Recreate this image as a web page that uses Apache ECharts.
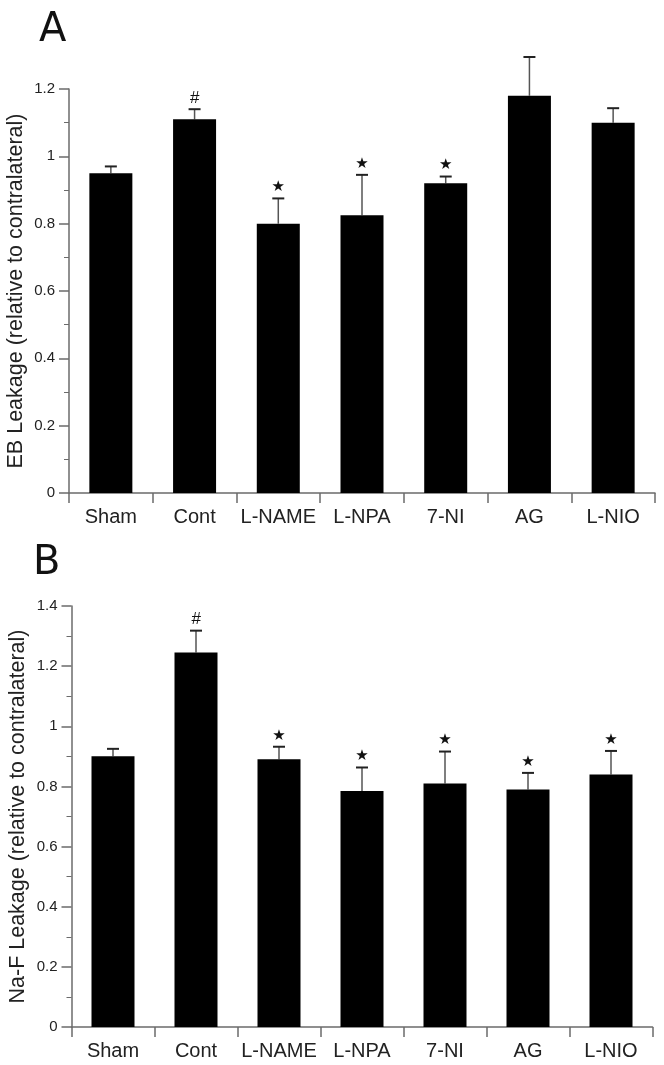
<!DOCTYPE html>
<html>
<head>
<meta charset="utf-8">
<script src="https://cdn.jsdelivr.net/npm/echarts@6/dist/echarts.min.js"></script>
<style>
  html, body { margin: 0; padding: 0; background: #fff; }
  #chart { width: 664px; height: 1065px; }
</style>
</head>
<body>
<div id="chart"></div>
<script>
// groups on the x axis (same in both panels)
const groups = ["Sham", "Cont", "L-NAME", "L-NPA", "7-NI", "AG", "L-NIO"];

// panel A: Evans blue leakage
const ebMean = [0.95, 1.11, 0.80, 0.825, 0.92, 1.18, 1.10];
const ebErr = [0.02, 0.03, 0.075, 0.12, 0.02, 0.115, 0.043];
const ebMark = ["", "#", "★", "★", "★", "", ""];

// panel B: Na-F leakage
const nafMean = [0.90, 1.245, 0.89, 0.785, 0.81, 0.79, 0.84];
const nafErr = [0.025, 0.073, 0.042, 0.078, 0.106, 0.055, 0.078];
const nafMark = ["", "#", "★", "★", "★", "★", "★"];

const FONT = "Liberation Sans, Arial, sans-serif";
const AXIS = "#6b6b6b";
const TXT = "#222";

// error bar (upper whisker only) + significance mark above the cap
const errorRender = (marks) => (params, api) => {
  const i = api.value(0);
  const v = api.value(1);
  const e = api.value(2);
  const base = api.coord([i, v]);
  const top = api.coord([i, v + e]);
  const x = base[0];
  const mark = marks[params.dataIndex];
  return {
    type: "group",
    children: [
      { type: "line", shape: { x1: x, y1: base[1], x2: x, y2: top[1] }, style: { stroke: "#555", lineWidth: 1.5 } },
      { type: "line", shape: { x1: x - 6, y1: top[1], x2: x + 6, y2: top[1] }, style: { stroke: "#222", lineWidth: 2 } },
      {
        type: "text",
        x: x,
        y: top[1] - 11,
        style: {
          text: mark,
          fill: "#111",
          font: mark === "#" ? "italic 17px " + FONT : "15px DejaVu Sans, sans-serif",
          align: "center",
          verticalAlign: "middle",
        },
      },
    ],
  };
};

const xAxisCfg = (gridIndex) => ({
  type: "category",
  gridIndex: gridIndex,
  data: groups,
  boundaryGap: true,
  axisLine: { lineStyle: { color: AXIS, width: 1.5 } },
  axisTick: { show: true, inside: false, length: 10, alignWithLabel: false, lineStyle: { color: AXIS, width: 1.5 } },
  axisLabel: { color: TXT, fontSize: 20, fontFamily: FONT, margin: 14, interval: 0 },
  splitLine: { show: false },
});

const yAxisCfg = (gridIndex, max, name) => ({
  type: "value",
  gridIndex: gridIndex,
  min: 0,
  max: max,
  interval: 0.2,
  name: name,
  nameLocation: "middle",
  nameGap: 42,
  nameMoveOverlap: false,
  nameTextStyle: { color: TXT, fontSize: 21.5, fontFamily: FONT },
  axisLine: { show: true, lineStyle: { color: AXIS, width: 1.5 } },
  axisTick: { show: true, inside: false, length: 10, lineStyle: { color: AXIS, width: 1.5 } },
  minorTick: { show: true, splitNumber: 2, length: 5, lineStyle: { color: AXIS, width: 1 } },
  axisLabel: { color: TXT, fontSize: 15, fontFamily: FONT, margin: 14 },
  splitLine: { show: false },
});

const toErrData = (mean, err) => mean.map((m, i) => [i, m, err[i]]);

const chart = echarts.init(document.getElementById("chart"), null, { renderer: "canvas" });

chart.setOption({
  backgroundColor: "#fff",
  animation: false,
  grid: [
    { left: 69, top: 89, width: 586, height: 404, containLabel: false, outerBoundsMode: "none" },
    { left: 71.5, top: 606, width: 581, height: 421, containLabel: false, outerBoundsMode: "none" },
  ],
  xAxis: [xAxisCfg(0), xAxisCfg(1)],
  yAxis: [
    yAxisCfg(0, 1.2, "EB Leakage (relative to contralateral)"),
    yAxisCfg(1, 1.4, "Na-F Leakage (relative to contralateral)"),
  ],
  graphic: [
    { type: "text", left: 39, top: 11, style: { text: "A", font: "40px DejaVu Sans, sans-serif", fill: "#111" } },
    { type: "text", left: 33, top: 544, style: { text: "B", font: "40px DejaVu Sans, sans-serif", fill: "#111" } },
  ],
  series: [
    {
      type: "bar",
      xAxisIndex: 0,
      yAxisIndex: 0,
      data: ebMean,
      barWidth: 43,
      itemStyle: { color: "#000" },
    },
    {
      type: "custom",
      xAxisIndex: 0,
      yAxisIndex: 0,
      data: toErrData(ebMean, ebErr),
      encode: { x: 0, y: 1 },
      clip: false,
      renderItem: errorRender(ebMark),
    },
    {
      type: "bar",
      xAxisIndex: 1,
      yAxisIndex: 1,
      data: nafMean,
      barWidth: 43,
      itemStyle: { color: "#000" },
    },
    {
      type: "custom",
      xAxisIndex: 1,
      yAxisIndex: 1,
      data: toErrData(nafMean, nafErr),
      encode: { x: 0, y: 1 },
      clip: false,
      renderItem: errorRender(nafMark),
    },
  ],
});
</script>
</body>
</html>
